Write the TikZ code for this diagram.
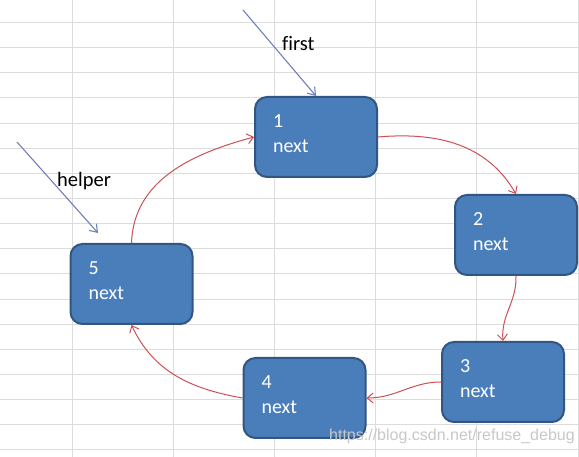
\documentclass[tikz,border=0pt]{standalone}
\usepackage{fontspec}
\setmainfont{Carlito}[Ligatures=NoCommon]
\newfontfamily\wmfont{Liberation Sans}
\usetikzlibrary{arrows.meta}
\definecolor{boxfill}{RGB}{74,126,187}
\definecolor{boxedge}{RGB}{50,86,130}
\definecolor{linkred}{RGB}{205,80,85}
\definecolor{ptrblue}{RGB}{112,128,188}
\definecolor{gridgray}{RGB}{220,220,220}
\definecolor{wmgray}{RGB}{200,200,200}
\newcommand\lowstrut{\rule[-6pt]{0pt}{0pt}}
\begin{document}
\begin{tikzpicture}[x=1pt,y=1pt,
  listnode/.style={draw=boxedge, line width=2pt, fill=boxfill, rounded corners=12pt,
    minimum width=122pt, minimum height=80pt, text width=86pt, align=left,
    text=white, font=\fontsize{20}{25}\selectfont, inner sep=0pt},
  link/.style={draw=linkred, line width=1pt, -{Straight Barb[length=6pt,width=10pt]}},
  pointer/.style={draw=ptrblue, line width=1.1pt, -{Straight Barb[length=7pt,width=10pt]}},
  ptrlabel/.style={anchor=base west, inner sep=0pt, font=\fontsize{20.5}{24}\selectfont},
  gridline/.style={draw=gridgray, line width=1pt}
]
\useasboundingbox (0,0) rectangle (579,457);
\fill[white] (0,0) rectangle (579,457);
% spreadsheet grid
\foreach \k in {0,...,17} \draw[gridline] (0,{457-22.6-25.13*\k}) -- (579,{457-22.6-25.13*\k});
\foreach \k in {0,...,5} \draw[gridline] ({72+101.2*\k},0) -- ({72+101.2*\k},457);

% list nodes
\node[listnode] (n1) at (316,320) {1\\next\lowstrut};
\node[listnode] (n2) at (516,222) {2\\next\lowstrut};
\node[listnode] (n3) at (503,75) {3\\next\lowstrut};
\node[listnode] (n4) at (304.5,59) {4\\next\lowstrut};
\node[listnode] (n5) at (131.5,173) {5\\next\lowstrut};

% links
\draw[link] (n1.east) to[out=5,in=120] (n2.north);
\draw[link] (n2.south) to[out=-88,in=95] (n3.north);
\draw[link] (n3.west) to[out=180,in=0] (n4.east);
\draw[link] (n4.west) to[out=170,in=-65] (n5.south);
\draw[link] (n5.north) to[out=88,in=195] (n1.west);

% pointers
\coordinate (firsttail) at (243,447);
\coordinate (helpertail) at (17,315);
\coordinate (helperhead) at (98,224);
\draw[pointer] (firsttail) -- (n1.north);
\draw[pointer] (helpertail) -- (helperhead);
\node[ptrlabel] (firstlbl) at (282,406) {first};
\node[ptrlabel] (helperlbl) at (57,270) {helper};

% watermark
\node[anchor=base west, inner sep=0pt, text=wmgray, font=\wmfont\fontsize{16}{18}\selectfont] (wm) at (329,16) {https://blog.csdn.net/refuse\_debug};
\end{tikzpicture}
\end{document}
